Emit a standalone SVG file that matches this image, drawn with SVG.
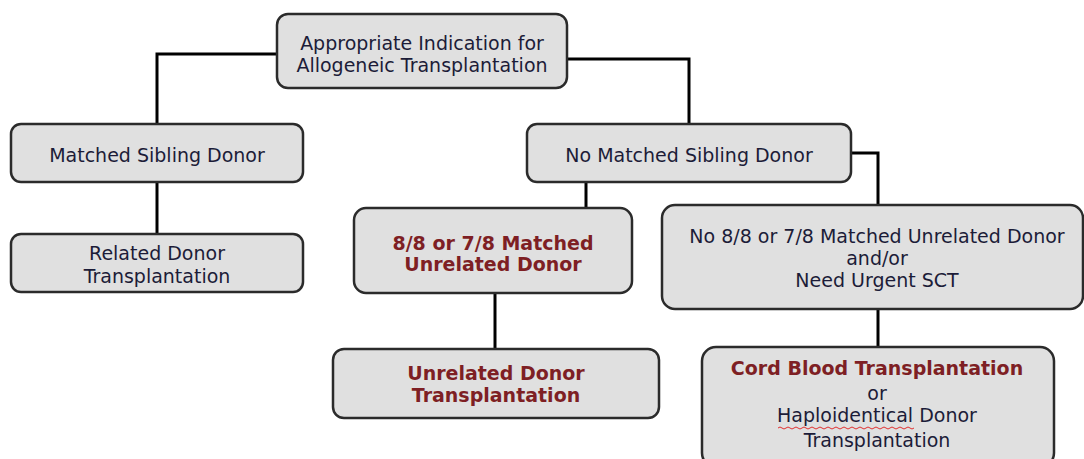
<svg xmlns="http://www.w3.org/2000/svg" width="1084" height="459" viewBox="0 0 1084 459">
<style>
.box{fill:#e0e0e0;stroke:#2b2b2b;stroke-width:2.5}
.t{font-family:"DejaVu Sans",Verdana,sans-serif;font-size:19px;fill:#1c1c38;text-anchor:middle}
.r{font-weight:bold;fill:#7e1f24}
.c{fill:none;stroke:#000;stroke-width:3}
</style>
<rect width="1084" height="459" fill="#fff"/>
<g id="connectors">
<polyline class="c" points="277,54 157,54 157,124"/>
<polyline class="c" points="567,59 689,59 689,124"/>
<line class="c" x1="157" y1="182" x2="157" y2="234"/>
<line class="c" x1="586" y1="182" x2="586" y2="208"/>
<polyline class="c" points="851,153 878,153 878,205"/>
<line class="c" x1="495" y1="293" x2="495" y2="349"/>
<line class="c" x1="878" y1="309" x2="878" y2="347"/>
</g>
<g id="n1"><rect class="box" x="277" y="14" width="290" height="74" rx="11"/>
<text class="t" x="422" y="50">Appropriate Indication for</text>
<text class="t" x="422" y="72">Allogeneic Transplantation</text></g>
<g id="n2"><rect class="box" x="11" y="124" width="292" height="58" rx="10"/>
<text class="t" x="157" y="162">Matched Sibling Donor</text></g>
<g id="n3"><rect class="box" x="11" y="234" width="292" height="58" rx="10"/>
<text class="t" x="157" y="260">Related Donor</text>
<text class="t" x="157" y="283">Transplantation</text></g>
<g id="n4"><rect class="box" x="527" y="124" width="324" height="58" rx="10"/>
<text class="t" x="689" y="162">No Matched Sibling Donor</text></g>
<g id="n5"><rect class="box" x="354" y="208" width="278" height="85" rx="12"/>
<text class="t r" x="493" y="250">8/8 or 7/8 Matched</text>
<text class="t r" x="493" y="271">Unrelated  Donor</text></g>
<g id="n6"><rect class="box" x="662" y="205" width="421" height="104" rx="13"/>
<text class="t" x="877" y="243">No 8/8 or 7/8 Matched Unrelated Donor</text>
<text class="t" x="877" y="265">and/or</text>
<text class="t" x="877" y="287">Need Urgent SCT</text></g>
<g id="n7"><rect class="box" x="333" y="349" width="326" height="69" rx="11"/>
<text class="t r" x="496" y="380">Unrelated Donor</text>
<text class="t r" x="496" y="402">Transplantation</text></g>
<g id="n8"><rect class="box" x="702" y="347" width="352" height="120" rx="14"/>
<text class="t r" x="877" y="375">Cord Blood Transplantation</text>
<text class="t" x="877" y="400">or</text>
<text class="t" x="877" y="422">Haploidentical Donor</text>
<text class="t" x="877" y="447">Transplantation</text>
<path d="M778,428 q2,-2 4,0 t4,0 t4,0 t4,0 t4,0 t4,0 t4,0 t4,0 t4,0 t4,0 t4,0 t4,0 t4,0 t4,0 t4,0 t4,0 t4,0 t4,0 t4,0 t4,0 t4,0 t4,0 t4,0 t4,0 t4,0 t4,0 t4,0 t4,0 t4,0 t4,0 t4,0 t4,0 t4,0 t4,0" fill="none" stroke="#e03030" stroke-width="1"/></g>
</svg>
